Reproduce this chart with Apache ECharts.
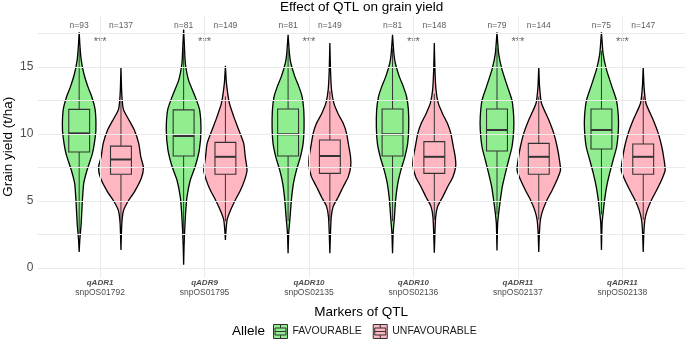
<!DOCTYPE html>
<html>
<head>
<meta charset="utf-8">
<script src="https://cdn.jsdelivr.net/npm/echarts@6/dist/echarts.min.js"></script>
<style>
  html, body { margin: 0; padding: 0; background: #fff; }
  #chart { width: 685px; height: 341px; }
</style>
</head>
<body>
<div id="chart"></div>
<script>
// markers on the x axis
var markers = ['qADR1', 'qADR9', 'qADR10', 'qADR10', 'qADR11', 'qADR11'];
var snps = ['snpOS01792', 'snpOS01795', 'snpOS02135', 'snpOS02136', 'snpOS02137', 'snpOS02138'];
var alleles = ['FAVOURABLE', 'UNFAVOURABLE'];
var nFav = [93, 81, 81, 81, 79, 75];
var nUnfav = [137, 149, 149, 148, 144, 147];
var signif = ['***', '***', '***', '***', '***', '***'];
var yTicks = [0, 5, 10, 15];
var yGrid = [0, 2.5, 5, 7.5, 10, 12.5, 15, 17.5];

// boxplot stats [lower whisker, Q1, median, Q3, upper whisker]
var boxFav = [
    [2.6, 8.66, 10.05, 11.84, 16.4],
    [2.0, 8.36, 9.85, 11.8, 16.6],
    [3.5, 8.36, 9.98, 11.87, 16.4],
    [3.5, 8.36, 9.98, 11.87, 16.4],
    [4.0, 8.73, 10.3, 11.87, 16.4],
    [4.0, 8.88, 10.3, 11.87, 16.2]
];
var boxUnfav = [
    [3.3, 7.0, 8.1, 9.1, 12.5],
    [3.5, 7.0, 8.3, 9.38, 12.8],
    [3.5, 7.06, 8.36, 9.55, 13.2],
    [3.6, 7.06, 8.3, 9.43, 13.0],
    [3.6, 7.0, 8.3, 9.3, 12.8],
    [3.6, 7.0, 8.3, 9.25, 12.8]
];

// violin outlines: [grain yield, half width]
var violinFav = [
    [[17.6,0],[16.5,0.008],[15.5,0.02],[14.5,0.045],[13.5,0.085],[12.8,0.12],[11.8,0.153],[10.3,0.16],[9.3,0.145],[8.5,0.125],[7.3,0.075],[6.3,0.043],[4.8,0.029],[3.3,0.019],[2.1,0.006],[1.2,0]],
    [[17.8,0],[16.5,0.008],[15.3,0.016],[14.0,0.048],[12.8,0.11],[11.8,0.153],[10.3,0.166],[8.8,0.15],[7.56,0.11],[6.57,0.064],[5.3,0.032],[4.1,0.019],[2.8,0.01],[1.6,0.004],[0.25,0]],
    [[17.4,0],[16.0,0.013],[15.3,0.026],[14.3,0.064],[13.5,0.105],[12.8,0.134],[11.8,0.15],[10.5,0.153],[9.3,0.144],[8.3,0.118],[7.3,0.08],[6.3,0.051],[5.1,0.032],[3.8,0.019],[2.6,0.006],[1.1,0]],
    [[17.4,0],[16.0,0.013],[15.3,0.026],[14.3,0.064],[13.5,0.105],[12.8,0.134],[11.8,0.152],[10.5,0.155],[9.3,0.145],[8.3,0.118],[7.3,0.08],[6.3,0.05],[5.1,0.03],[3.8,0.018],[2.6,0.006],[1.1,0]],
    [[17.6,0],[16.0,0.016],[14.8,0.048],[13.5,0.102],[12.5,0.144],[11.3,0.16],[10.3,0.16],[9.05,0.144],[8.06,0.112],[7.06,0.08],[6.07,0.051],[5.07,0.032],[4.1,0.016],[3.3,0.006],[1.3,0]],
    [[17.6,0],[16.0,0.016],[14.8,0.048],[13.5,0.102],[12.5,0.144],[11.3,0.162],[10.3,0.162],[9.05,0.146],[8.06,0.112],[7.06,0.078],[6.07,0.05],[5.07,0.03],[4.1,0.016],[3.3,0.006],[1.35,0]]
];
var violinUnfav = [
    [[15.0,0],[13.5,0.005],[12.5,0.012],[11.8,0.025],[11.0,0.08],[10.3,0.128],[9.3,0.17],[8.3,0.19],[7.5,0.215],[6.7,0.195],[5.7,0.13],[5.0,0.07],[4.3,0.025],[3.3,0.008],[1.35,0]],
    [[15.1,0],[13.8,0.01],[12.3,0.038],[11.3,0.08],[10.3,0.128],[9.3,0.175],[8.3,0.19],[7.3,0.207],[6.6,0.185],[5.8,0.144],[5.1,0.096],[4.3,0.048],[3.6,0.016],[2.8,0.006],[2.1,0]],
    [[16.8,0],[14.8,0.006],[13.3,0.016],[12.3,0.038],[11.5,0.08],[10.8,0.128],[10.05,0.16],[9.05,0.182],[8.3,0.198],[7.6,0.2],[6.8,0.176],[6.07,0.128],[5.3,0.08],[4.6,0.032],[3.8,0.013],[2.6,0.006],[1.1,0]],
    [[16.8,0],[14.8,0.006],[13.3,0.016],[12.3,0.038],[11.5,0.08],[10.8,0.125],[10.05,0.158],[9.05,0.182],[8.3,0.2],[7.6,0.205],[6.8,0.178],[6.07,0.128],[5.3,0.08],[4.6,0.032],[3.8,0.013],[2.6,0.006],[1.15,0]],
    [[15.0,0],[13.5,0.008],[12.3,0.026],[11.05,0.096],[10.05,0.144],[9.05,0.176],[8.06,0.198],[7.3,0.208],[6.6,0.176],[5.8,0.128],[5.1,0.08],[4.3,0.038],[3.6,0.016],[2.6,0.006],[1.2,0]],
    [[15.0,0],[13.5,0.008],[12.3,0.026],[11.05,0.096],[10.05,0.144],[9.05,0.178],[8.06,0.2],[7.3,0.21],[6.6,0.178],[5.8,0.128],[5.1,0.08],[4.3,0.038],[3.6,0.016],[2.6,0.006],[1.2,0]]
];

var favColor = '#90EE90';
var unfavColor = '#FFB6C1';
var dodge = [-0.2, 0.2];
var boxHalf = 0.1;
var font = 'Liberation Sans, Arial, sans-serif';

var chart = echarts.init(document.getElementById('chart'), null, {renderer: 'canvas'});

// violin polygon from an outline
function renderViolin(profiles) {
    return function (params, api) {
        var x = api.value(0);
        var prof = profiles[api.value(1)];
        var pts = [];
        for (var i = 0; i < prof.length; i++) {
            pts.push(api.coord([x + prof[i][1], prof[i][0]]));
        }
        for (var j = prof.length - 1; j >= 0; j--) {
            pts.push(api.coord([x - prof[j][1], prof[j][0]]));
        }
        return {
            type: 'polygon',
            shape: {points: pts, smooth: 0.2},
            style: {fill: api.visual('color'), stroke: '#000', lineWidth: 1.3}
        };
    };
}

function renderBox(color) {
    return function (params, api) {
        var x = api.value(0);
        var lo = api.coord([x, api.value(1)]);
        var q1 = api.coord([x, api.value(2)]);
        var md = api.coord([x, api.value(3)]);
        var q3 = api.coord([x, api.value(4)]);
        var hi = api.coord([x, api.value(5)]);
        var l = api.coord([x - boxHalf, 0])[0];
        var r = api.coord([x + boxHalf, 0])[0];
        var line = {stroke: '#333', lineWidth: 1};
        return {
            type: 'group',
            children: [
                {type: 'line', shape: {x1: lo[0], y1: lo[1], x2: q1[0], y2: q1[1]}, style: line},
                {type: 'line', shape: {x1: q3[0], y1: q3[1], x2: hi[0], y2: hi[1]}, style: line},
                {type: 'rect', shape: {x: l, y: q3[1], width: r - l, height: q1[1] - q3[1]},
                    style: {fill: color, stroke: '#333', lineWidth: 1.1}},
                {type: 'line', shape: {x1: l, y1: md[1], x2: r, y2: md[1]}, style: {stroke: '#333', lineWidth: 2}}
            ]
        };
    };
}

var violinFavData = markers.map(function (m, i) { return [i + dodge[0], i]; });
var violinUnfavData = markers.map(function (m, i) { return [i + dodge[1], i]; });
var boxFavData = boxFav.map(function (b, i) { return [i + dodge[0]].concat(b); });
var boxUnfavData = boxUnfav.map(function (b, i) { return [i + dodge[1]].concat(b); });

var nLabels = [];
markers.forEach(function (m, i) {
    nLabels.push({value: [i + dodge[0], 18.05], label: 'n=' + nFav[i]});
    nLabels.push({value: [i + dodge[1], 18.05], label: 'n=' + nUnfav[i]});
});
var starLabels = signif.map(function (s, i) { return {value: [i, 16.9], label: s}; });

var gridLines = yGrid.map(function (v) { return {yAxis: v}; })
    .concat(markers.map(function (m, i) { return {xAxis: i}; }));

var legendIcon = 'path://M0,0H14V14H0Z M1.5,3.5H12.5V10.5H1.5Z M1.5,7H12.5 M7,0.5V3.5 M7,10.5V13.5';

var option = {
    animation: false,
    textStyle: {fontFamily: font},
    title: [{
        text: 'Effect of QTL on grain yield',
        left: 280, top: 0, padding: 0,
        textStyle: {fontSize: 13.5, fontWeight: 'normal', color: '#000', fontFamily: font}
    }, {
        text: 'Allele',
        left: 232, top: 324, padding: 0,
        textStyle: {fontSize: 13.5, fontWeight: 'normal', color: '#000', fontFamily: font}
    }],
    legend: {
        data: alleles,
        left: 268, top: 319,
        itemWidth: 14, itemHeight: 14, itemGap: 11,
        icon: legendIcon,
        itemStyle: {borderColor: '#333', borderWidth: 1},
        textStyle: {fontSize: 10.5, color: '#1a1a1a', fontFamily: font}
    },
    grid: {left: 37.4, right: 0, top: 16.1, bottom: 63.6, outerBoundsMode: 'none', containLabel: false},
    xAxis: {
        type: 'value',
        min: -0.6, max: 5.6,
        name: 'Markers of QTL',
        nameLocation: 'middle',
        nameGap: 28,
        nameMoveOverlap: false,
        nameTextStyle: {fontSize: 13.5, color: '#000', fontFamily: font},
        axisLine: {show: false},
        axisTick: {show: false},
        splitLine: {show: false},
        axisLabel: {
            customValues: [0, 1, 2, 3, 4, 5],
            margin: 1,
            formatter: function (v) {
                return '{a|' + markers[Math.round(v)] + '}\n{b|' + snps[Math.round(v)] + '}';
            },
            rich: {
                a: {fontSize: 8, fontStyle: 'italic', fontWeight: 'bold', color: '#4d4d4d', lineHeight: 9.5, fontFamily: font},
                b: {fontSize: 8.5, color: '#4d4d4d', lineHeight: 9.5, fontFamily: font}
            }
        }
    },
    yAxis: {
        type: 'value',
        min: -0.7, max: 18.8,
        name: 'Grain yield (t/ha)',
        nameLocation: 'middle',
        nameGap: 22,
        nameMoveOverlap: false,
        nameTextStyle: {fontSize: 13.5, color: '#000', fontFamily: font},
        axisLine: {show: false},
        axisTick: {show: false},
        splitLine: {show: false},
        axisLabel: {customValues: yTicks, margin: 4, fontSize: 12, color: '#4d4d4d', fontFamily: font}
    },
    series: [
        {
            type: 'line', data: [], silent: true, z: 0,
            markLine: {
                silent: true, symbol: 'none', animation: false,
                label: {show: false},
                lineStyle: {color: '#ebebeb', type: 'solid', width: 1},
                data: gridLines
            }
        },
        {
            name: alleles[0], type: 'custom', z: 2,
            itemStyle: {color: favColor, borderColor: '#333'},
            renderItem: renderViolin(violinFav),
            data: violinFavData
        },
        {
            name: alleles[1], type: 'custom', z: 2,
            itemStyle: {color: unfavColor, borderColor: '#333'},
            renderItem: renderViolin(violinUnfav),
            data: violinUnfavData
        },
        {
            type: 'custom', z: 3, silent: true,
            renderItem: renderBox(favColor),
            data: boxFavData
        },
        {
            type: 'custom', z: 3, silent: true,
            renderItem: renderBox(unfavColor),
            data: boxUnfavData
        },
        {
            type: 'scatter', symbolSize: 0, silent: true, z: 4,
            data: nLabels,
            label: {
                show: true, position: 'inside',
                formatter: function (p) { return p.data.label; },
                fontSize: 8.5, color: '#333', fontFamily: font
            }
        },
        {
            type: 'scatter', symbolSize: 0, silent: true, z: 4,
            data: starLabels,
            label: {
                show: true, position: 'inside',
                formatter: function (p) { return p.data.label; },
                fontSize: 11, color: '#333', fontFamily: font
            }
        }
    ]
};
chart.setOption(option);
</script>
</body>
</html>
